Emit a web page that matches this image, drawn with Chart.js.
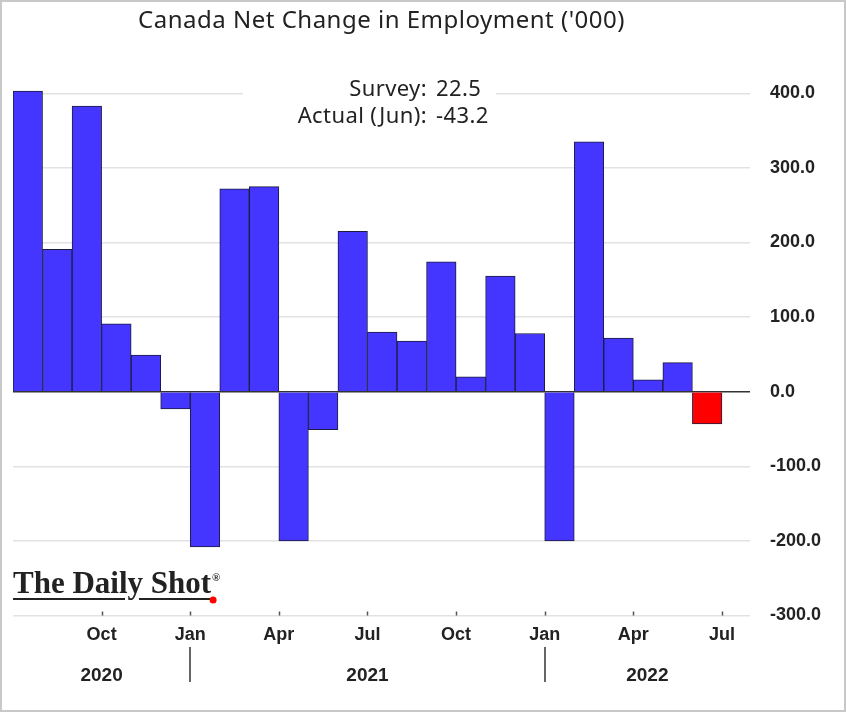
<!DOCTYPE html>
<html>
<head>
<meta charset="utf-8">
<script src="https://cdn.jsdelivr.net/npm/chart.js@4/dist/chart.umd.min.js"></script>
<style>
  html, body { margin: 0; padding: 0; background: #fff; }
  #wrap { width: 846px; height: 712px; }
</style>
</head>
<body>
<div id="wrap"><canvas id="jobsChart" width="846" height="712"></canvas></div>
<script>
// Canada net change in employment ('000), monthly Jul 2020 - Jun 2022
const months = [
  'Jul 2020', 'Aug 2020', 'Sep 2020', 'Oct 2020', 'Nov 2020', 'Dec 2020',
  'Jan 2021', 'Feb 2021', 'Mar 2021', 'Apr 2021', 'May 2021', 'Jun 2021',
  'Jul 2021', 'Aug 2021', 'Sep 2021', 'Oct 2021', 'Nov 2021', 'Dec 2021',
  'Jan 2022', 'Feb 2022', 'Mar 2022', 'Apr 2022', 'May 2022', 'Jun 2022'
];
const changes = [
  403, 191, 383, 91, 49, -23,
  -208, 272, 275, -200, -51, 215,
  80, 68, 174, 20, 155, 78,
  -200, 335, 72, 16, 39, -43.2
];
const xTickLabels = ['Oct', 'Jan', 'Apr', 'Jul', 'Oct', 'Jan', 'Apr', 'Jul'];
const yearLabels = ['2020', '2021', '2022'];
const yTicks = [400, 300, 200, 100, 0, -100, -200, -300];
const chartTitle = "Canada Net Change in Employment ('000)";
const surveyLabel = 'Survey:';
const surveyValue = '22.5';
const actualLabel = 'Actual (Jun):';
const actualValue = '-43.2';

const BLUE = '#4436ff';
const RED = '#ff0000';
const X_MAX = 24.95;

// each bar fills its own month: [i, i+1]
const barData = changes.map((v, i) => ({ x: i + 0.5, y: v }));
const barColors = changes.map((v, i) => i === changes.length - 1 ? RED : BLUE);

const extras = {
  id: 'extras',
  beforeDraw(chart) {
    const ctx = chart.ctx;
    const a = chart.chartArea;
    ctx.save();
    ctx.fillStyle = '#fff';
    ctx.fillRect(0, 0, chart.width, chart.height);

    // title, centred over the plot area
    ctx.fillStyle = '#222';
    ctx.font = '24px "Noto Sans"';
    ctx.letterSpacing = '0.5px';
    ctx.textAlign = 'center';
    ctx.textBaseline = 'middle';
    ctx.fillText(chartTitle, (a.left + a.right) / 2, 21);
    ctx.restore();
  },
  beforeDatasetsDraw(chart) {
    const ctx = chart.ctx;
    // survey / actual box (hides the gridline behind it)
    ctx.save();
    ctx.fillStyle = '#fff';
    ctx.fillRect(243, 76, 253, 56);
    ctx.fillStyle = '#222';
    ctx.font = '22px "Noto Sans"';
    ctx.letterSpacing = '0.4px';
    ctx.textBaseline = 'middle';
    ctx.textAlign = 'right';
    ctx.fillText(surveyLabel, 427, 90);
    ctx.fillText(actualLabel, 427, 117);
    ctx.textAlign = 'left';
    ctx.fillText(surveyValue, 436, 90);
    ctx.fillText(actualValue, 436, 117);
    ctx.restore();
  },
  afterDraw(chart) {
    const ctx = chart.ctx;
    const a = chart.chartArea;
    const x = chart.scales.x;
    ctx.save();

    // small tick marks sitting on the bottom axis
    ctx.strokeStyle = '#555';
    ctx.lineWidth = 1.5;
    x.ticks.forEach(t => {
      const px = Math.round(x.getPixelForValue(t.value)) + 0.5;
      ctx.beginPath();
      ctx.moveTo(px, a.bottom - 4);
      ctx.lineTo(px, a.bottom);
      ctx.stroke();
    });

    // year row: separators at January, labels centred on each year's span
    const yearStarts = [0];
    months.forEach((m, i) => { if (i > 0 && m.startsWith('Jan')) yearStarts.push(i); });
    const yearEnds = yearStarts.slice(1).concat([X_MAX]);
    ctx.strokeStyle = '#666';
    ctx.lineWidth = 2;
    yearStarts.slice(1).forEach(s => {
      const px = Math.round(x.getPixelForValue(s));
      ctx.beginPath();
      ctx.moveTo(px, 647);
      ctx.lineTo(px, 682);
      ctx.stroke();
    });
    ctx.fillStyle = '#222';
    ctx.font = 'bold 19px "Liberation Sans"';
    ctx.textAlign = 'center';
    ctx.textBaseline = 'middle';
    yearLabels.forEach((lbl, k) => {
      const mid = (x.getPixelForValue(yearStarts[k]) + x.getPixelForValue(yearEnds[k])) / 2;
      ctx.fillText(lbl, mid, 676);
    });

    // watermark
    ctx.font = 'bold 31px "Liberation Serif"';
    ctx.textAlign = 'left';
    ctx.textBaseline = 'alphabetic';
    ctx.fillStyle = '#222';
    const mark = 'The Daily Shot';
    ctx.fillText(mark, 13, 593);
    const w = ctx.measureText(mark).width;
    ctx.font = 'bold 11px "Liberation Serif"';
    ctx.fillText('®', 13 + w + 1, 581);
    ctx.strokeStyle = '#222';
    ctx.lineWidth = 2;
    ctx.beginPath();
    ctx.moveTo(13, 599); ctx.lineTo(125, 599);
    ctx.moveTo(139, 599); ctx.lineTo(13 + w, 599);
    ctx.stroke();
    ctx.fillStyle = RED;
    ctx.beginPath();
    ctx.arc(13 + w + 2, 600, 3.5, 0, Math.PI * 2);
    ctx.fill();

    // outer frame
    ctx.strokeStyle = '#c8c8c8';
    ctx.lineWidth = 2;
    ctx.strokeRect(1, 1, chart.width - 2, chart.height - 2);
    ctx.restore();
  }
};

new Chart(document.getElementById('jobsChart'), {
  type: 'bar',
  data: {
    datasets: [{
      label: 'Net change in employment',
      data: barData,
      backgroundColor: barColors,
      borderColor: '#1c1c3c',
      borderWidth: 1,
      barPercentage: 1,
      categoryPercentage: 1
    }]
  },
  options: {
    responsive: false,
    devicePixelRatio: 1,
    animation: false,
    layout: { padding: { left: 13, right: 0, top: 63.5, bottom: 0 } },
    plugins: {
      legend: { display: false },
      tooltip: { enabled: false },
      title: { display: false }
    },
    scales: {
      x: {
        type: 'linear',
        min: 0,
        max: X_MAX,
        offset: false,
        afterBuildTicks: s => { s.ticks = xTickLabels.map((l, k) => ({ value: 3 * (k + 1) })); },
        afterFit: s => { s.height = 96.5; },
        grid: { display: false, drawTicks: false },
        border: { display: false },
        ticks: {
          autoSkip: false,
          maxRotation: 0,
          padding: 9,
          color: '#222',
          font: { family: '"Liberation Sans"', size: 18, weight: 'bold' },
          callback: (v) => xTickLabels[Math.round(v / 3) - 1]
        }
      },
      y: {
        position: 'right',
        min: -300,
        max: 440,
        afterBuildTicks: s => { s.ticks = yTicks.map(v => ({ value: v })); },
        afterFit: s => { s.width = 96; },
        grid: {
          drawTicks: false,
          color: c => c.tick.value === 0 ? '#333' : '#e2e2e2',
          lineWidth: 1.5
        },
        border: { display: false },
        ticks: {
          padding: 20,
          color: '#222',
          font: { family: '"Liberation Sans"', size: 18, weight: 'bold' },
          callback: v => v.toFixed(1)
        }
      }
    }
  },
  plugins: [extras]
});
</script>
</body>
</html>
